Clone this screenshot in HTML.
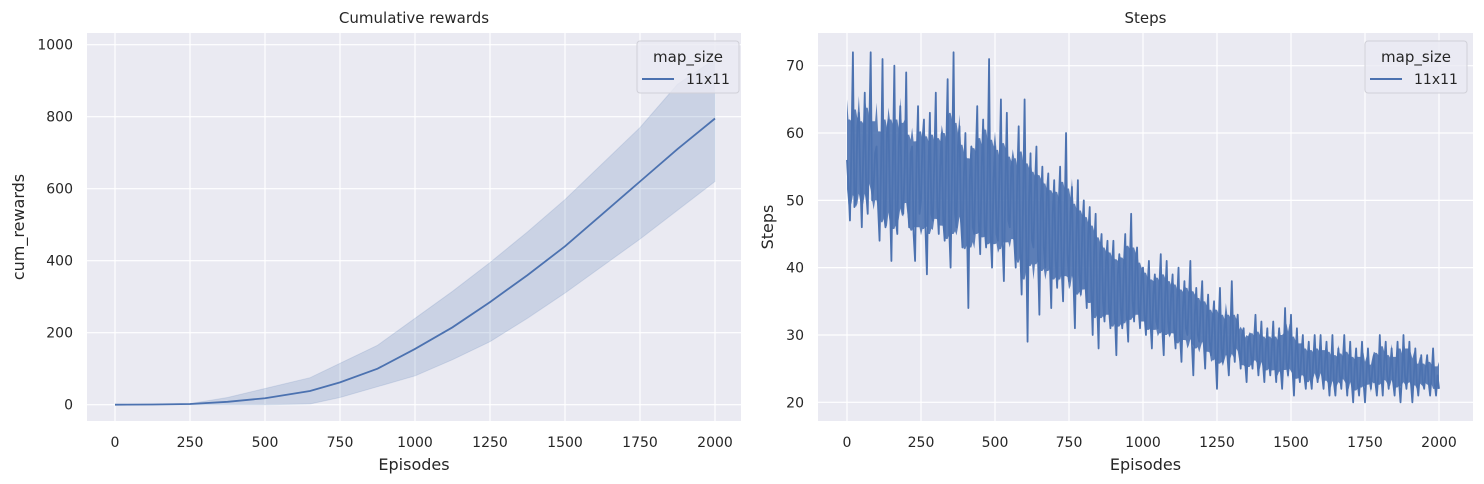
<!DOCTYPE html>
<html><head><meta charset="utf-8"><style>
body{margin:0;background:#fff;}
svg{display:block;font-family:"DejaVu Sans","Liberation Sans",sans-serif;}
</style></head><body>
<svg id="fig" width="1484" height="484" viewBox="0 0 1484 484"></svg>
<script>
const rewardEpisodes=[0,125,250,375,500,650,750,875,1000,1125,1250,1375,1500,1625,1750,1875,2000];
const rewardMean=[0,0.5,2,8,18,38,62,100,155,215,285,360,440,530,620,710,795];
const rewardUpper=[0,0.5,3,20,45,75,115,165,240,315,395,480,570,670,770,890,960];
const rewardLower=[0,0,0,0,0,2,20,50,80,125,175,240,310,385,460,540,620];
const rewardTicksX=[0,250,500,750,1000,1250,1500,1750,2000];
const rewardTicksY=[0,200,400,600,800,1000];
const stepsEpisodeStep=5;
const stepsValues=[
56,52,47,58,72,49,50,61,63,53,46,57,66,51,48,60,72,50,52,57,
58,49,44,55,71,48,46,60,62,50,41,56,70,47,45,58,64,49,48,55,
69,50,46,57,58,45,41,56,64,48,50,59,62,46,39,54,63,48,47,56,
66,49,45,55,60,47,44,57,68,46,40,55,72,48,46,58,61,47,43,54,
60,47,34,53,58,46,45,56,64,47,42,55,62,46,43,54,71,45,40,53,
58,45,44,54,65,44,38,52,63,47,46,55,56,44,40,53,61,43,36,50,
65,45,29,50,57,44,43,52,58,42,33,50,55,43,40,51,54,41,34,48,
53,41,37,49,55,40,35,47,60,42,38,48,52,38,31,45,53,39,36,46,
50,38,34,45,49,37,30,43,48,35,28,42,45,35,32,41,44,34,31,40,
44,33,27,39,42,34,31,40,45,33,29,40,48,35,32,41,43,34,31,39,
40,33,30,37,41,32,28,36,39,32,31,37,42,31,27,36,41,32,30,36,
39,31,28,35,40,30,26,34,38,31,30,35,41,29,24,33,37,30,29,34,
38,29,25,32,36,29,27,32,35,27,22,31,37,28,26,31,33,27,24,30,
38,29,26,31,33,28,25,30,31,26,23,29,30,27,25,29,33,27,24,28,
32,26,23,28,31,26,24,28,32,26,23,28,31,25,22,27,34,26,24,28,
33,25,21,27,31,25,23,27,30,24,22,26,29,24,22,26,30,25,23,26,
30,24,22,26,29,24,21,25,30,23,21,25,28,24,22,26,30,24,21,25,
29,23,20,25,28,23,21,25,29,23,20,24,28,24,22,25,27,23,21,24,
30,24,21,26,29,24,22,25,28,23,21,25,29,23,20,24,30,24,22,25,
29,23,20,24,28,23,21,24,27,23,22,25,27,23,21,24,28,23,21,24,
22];
const stepsTicksX=[0,250,500,750,1000,1250,1500,1750,2000];
const stepsTicksY=[20,30,40,50,60,70];

const NS="http://www.w3.org/2000/svg";
const svg=document.getElementById('fig');
function mk(tag,attrs,parent,text){const e=document.createElementNS(NS,tag);for(const k in attrs)e.setAttribute(k,attrs[k]);if(text!==undefined)e.textContent=text;(parent||svg).appendChild(e);return e;}
const TOP=33,BOT=421;
function panel(cfg){
  const g=mk('g',{});
  
  
  const bg=mk('rect',{x:cfg.left,y:TOP,width:cfg.right-cfg.left,height:BOT-TOP,fill:'#eaeaf2'},g);
  
  
  const sx=v=>cfg.x0+(v-cfg.xmin)*(cfg.x1-cfg.x0)/(cfg.xmax-cfg.xmin);
  const sy=v=>cfg.y0+(v-cfg.ymin)*(cfg.y1-cfg.y0)/(cfg.ymax-cfg.ymin);
  cfg.ticksX.forEach(t=>{
    const l=mk('line',{x1:sx(t),x2:sx(t),y1:TOP,y2:BOT,stroke:'#fff','stroke-width':1.2},g);
    
    
    const tx=mk('text',{x:sx(t),y:447,'text-anchor':'middle','font-size':14,fill:'#262626'},g,String(t));
    
    
  });
  cfg.ticksY.forEach(t=>{
    const l=mk('line',{x1:cfg.left,x2:cfg.right,y1:sy(t),y2:sy(t),stroke:'#fff','stroke-width':1.2},g);
    
    
    const tx=mk('text',{x:cfg.left-14,y:sy(t)+5,'text-anchor':'end','font-size':14,fill:'#262626'},g,String(t));
    
    
  });
  const ti=mk('text',{x:(cfg.left+cfg.right)/2,y:23,'text-anchor':'middle','font-size':15,fill:'#262626'},g,cfg.title);
  
  
  const xl=mk('text',{x:(cfg.left+cfg.right)/2,y:470,'text-anchor':'middle','font-size':16,fill:'#262626'},g,'Episodes');
  
  
  const yx=cfg.ylabX, yy=(TOP+BOT)/2;
  const yl=mk('text',{x:yx,y:yy,'text-anchor':'middle','font-size':16,fill:'#262626',transform:`rotate(-90 ${yx} ${yy})`},g,cfg.ylabel);
  
  
  return {g,sx,sy};
}
function legend(g,x,y){
  const lg=mk('g',{},g);
  
  
  mk('rect',{x:x,y:y,width:102,height:52,rx:3,fill:'#eaeaf2','fill-opacity':0.8,stroke:'#d0d0d8'},lg);
  mk('text',{x:x+51,y:y+21,'text-anchor':'middle','font-size':15,fill:'#262626'},lg,'map_size');
  const ln=mk('line',{x1:x+5,x2:x+37,y1:y+38,y2:y+38,stroke:'#4c72b0','stroke-width':2},lg);
  
  
  const lt=mk('text',{x:x+49,y:y+43,'font-size':14,fill:'#262626'},lg,'11x11');
  
  
}

const L=panel({name:'cumulative-rewards-chart',left:87,right:741,x0:115,x1:715,xmin:0,xmax:2000,y0:404.7,y1:44.7,ymin:0,ymax:1000,ticksX:rewardTicksX,ticksY:rewardTicksY,title:'Cumulative rewards',ylabel:'cum_rewards',ylabX:24});
let band='';
rewardEpisodes.forEach((e,i)=>{band+=(i?'L':'M')+L.sx(e)+','+L.sy(rewardUpper[i]);});
for(let i=rewardEpisodes.length-1;i>=0;i--)band+='L'+L.sx(rewardEpisodes[i])+','+L.sy(rewardLower[i]);
band+='Z';
const bandEl=mk('path',{d:band,fill:'#4c72b0','fill-opacity':0.2,stroke:'#4c72b0','stroke-opacity':0.15},L.g);


let mline='';
rewardEpisodes.forEach((e,i)=>{mline+=(i?'L':'M')+L.sx(e)+','+L.sy(rewardMean[i]);});
const mEl=mk('path',{d:mline,fill:'none',stroke:'#4c72b0','stroke-width':1.8},L.g);


legend(L.g,637,41);

const R=panel({name:'steps-chart',left:818,right:1473,x0:847,x1:1439,xmin:0,xmax:2000,y0:402.3,y1:65.7,ymin:20,ymax:70,ticksX:stepsTicksX,ticksY:stepsTicksY,title:'Steps',ylabel:'Steps',ylabX:773});
const W=4;
const up=[],lo=[];
stepsValues.forEach((v,i)=>{
  const win=stepsValues.slice(Math.max(0,i-W),Math.min(stepsValues.length,i+W+1));
  const m=win.reduce((a,b)=>a+b,0)/win.length;
  const hi=win.filter(x=>x>=m),lw=win.filter(x=>x<=m);
  up.push(hi.reduce((a,b)=>a+b,0)/hi.length);
  lo.push(lw.reduce((a,b)=>a+b,0)/lw.length);
});
let core='';
up.forEach((v,i)=>{core+=(i?'L':'M')+R.sx(i*stepsEpisodeStep)+','+R.sy(v);});
for(let i=lo.length-1;i>=0;i--)core+='L'+R.sx(i*stepsEpisodeStep)+','+R.sy(lo[i]);
core+='Z';
const coreEl=mk('path',{d:core,fill:'#4c72b0','fill-opacity':0.9},R.g);


let sline='';
stepsValues.forEach((v,i)=>{sline+=(i?'L':'M')+R.sx(i*stepsEpisodeStep)+','+R.sy(v);});
const sEl=mk('path',{d:sline,fill:'none',stroke:'#4c72b0','stroke-width':1.8,'stroke-linejoin':'round'},R.g);


legend(R.g,1365,41);
</script>
</body></html>
